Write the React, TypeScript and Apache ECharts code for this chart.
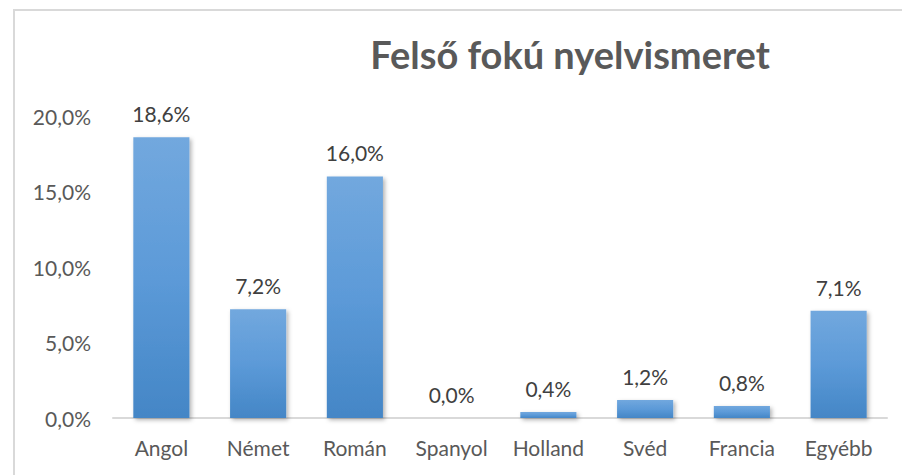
import React, { useEffect, useRef } from "react";
import * as echarts from "echarts";

const titleText = "Felső fokú nyelvismeret";
const categories = ["Angol", "Német", "Román", "Spanyol", "Holland", "Svéd", "Francia", "Egyébb"];
const values = [18.6, 7.2, 16.0, 0.0, 0.4, 1.2, 0.8, 7.1];
const yMin = 0;
const yMax = 20;
const yInterval = 5;

const fmt = (v: number) => v.toFixed(1).replace(".", ",") + "%";

export default function App() {
  const ref = useRef<HTMLDivElement>(null);
  useEffect(() => {
    document.body.style.margin = "0";
    const chart = echarts.init(ref.current!, null, { renderer: "svg" });
    const font = "Lato, 'Open Sans', sans-serif";
    chart.setOption({
      animation: false,
      backgroundColor: "#ffffff",
      title: {
        text: titleText,
        left: 565,
        top: 30,
        textAlign: "center",
        textStyle: { fontFamily: font, fontWeight: "bold", fontSize: 38, color: "#595959" },
      },
      graphic: [
        {
          type: "rect",
          shape: { x: 14, y: 10, width: 1000, height: 1000 },
          style: { fill: "none", stroke: "#d9d9d9", lineWidth: 2 },
          silent: true,
        },
      ],
      grid: { left: 113, right: 15, top: 116, bottom: 57, containLabel: false },
      xAxis: {
        type: "category",
        data: categories,
        axisLine: { show: true, lineStyle: { color: "#d9d9d9", width: 2 } },
        axisTick: { show: false },
        axisLabel: { fontFamily: font, fontSize: 21, color: "#595959", margin: 19 },
      },
      yAxis: {
        type: "value",
        min: yMin,
        max: yMax,
        interval: yInterval,
        axisLine: { show: false },
        axisTick: { show: false },
        splitLine: { show: false },
        axisLabel: { fontFamily: font, fontSize: 21, color: "#595959", margin: 22, formatter: (v: number) => fmt(v) },
      },
      series: [
        {
          type: "bar",
          data: values,
          barWidth: "58%",
          itemStyle: {
            color: new echarts.graphic.LinearGradient(0, 0, 0, 1, [
              { offset: 0, color: "#72a8de" },
              { offset: 0.5, color: "#5c9ad8" },
              { offset: 1, color: "#4486c6" },
            ]),
            shadowColor: "rgba(0,0,0,0.3)",
            shadowBlur: 4,
            shadowOffsetX: 2,
            shadowOffsetY: 2,
          },
          label: {
            show: true,
            position: "top",
            distance: 13,
            fontFamily: font,
            fontSize: 21,
            color: "#404040",
            formatter: (p: any) => fmt(p.value),
          },
        },
      ],
    });
    return () => chart.dispose();
  }, []);
  return <div ref={ref} style={{ width: 902, height: 475 }} />;
}
